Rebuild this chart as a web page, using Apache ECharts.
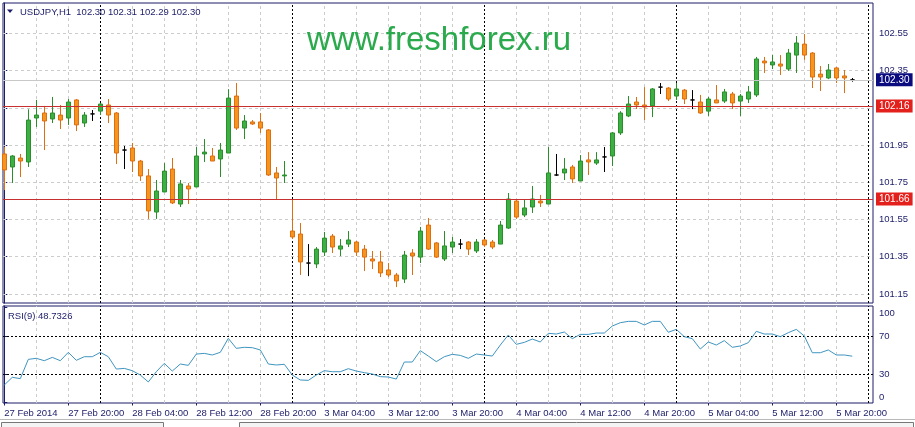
<!DOCTYPE html>
<html>
<head>
<meta charset="utf-8">
<title>USDJPY H1</title>
<script src="https://cdn.jsdelivr.net/npm/echarts@6/dist/echarts.min.js"></script>
<style>
  html, body { margin: 0; padding: 0; background: #fff; }
  #chart { width: 915px; height: 427px; }
</style>
</head>
<body>
<div id="chart"></div>
<script>
var symbolName = 'USDJPY,H1';
var watermark = 'www.freshforex.ru';

// every 8th bar gets a time label (bar 0 = 27 Feb 12:00)
var timeLabels = ['27 Feb 2014', '27 Feb 20:00', '28 Feb 04:00', '28 Feb 12:00', '28 Feb 20:00',
  '3 Mar 04:00', '3 Mar 12:00', '3 Mar 20:00', '4 Mar 04:00', '4 Mar 12:00', '4 Mar 20:00',
  '5 Mar 04:00', '5 Mar 12:00', '5 Mar 20:00'];

var opens = [101.902, 101.832, 101.880, 101.859, 102.095, 102.122, 102.090, 102.111, 102.095, 102.192,
  102.068, 102.117, 102.132, 102.165, 102.122, 101.923, 101.934, 101.864, 101.784, 101.590,
  101.698, 101.821, 101.633, 101.730, 101.725, 101.902, 101.891, 101.875, 101.907, 102.213,
  102.041, 102.074, 102.074, 102.031, 101.800, 101.784, 101.488, 101.472, 101.316, 101.311,
  101.375, 101.461, 101.391, 101.418, 101.429, 101.391, 101.338, 101.322, 101.279, 101.252,
  101.230, 101.370, 101.348, 101.520, 101.424, 101.338, 101.402, 101.418, 101.429, 101.381,
  101.440, 101.429, 101.418, 101.504, 101.649, 101.574, 101.617, 101.649, 101.633, 101.789,
  101.800, 101.832, 101.757, 101.870, 101.853, 101.886, 101.891, 102.015, 102.106, 102.181,
  102.165, 102.160, 102.261, 102.256, 102.213, 102.245, 102.192, 102.181, 102.132, 102.192,
  102.186, 102.224, 102.186, 102.197, 102.219, 102.401, 102.380, 102.385, 102.358, 102.433,
  102.492, 102.444, 102.331, 102.310, 102.364, 102.321, 102.30];
var highs = [101.939, 101.896, 101.902, 102.142, 102.192, 102.160, 102.208, 102.165, 102.197, 102.197,
  102.127, 102.138, 102.176, 102.197, 102.127, 101.945, 101.961, 101.870, 101.821, 101.762,
  101.853, 101.880, 101.762, 101.746, 101.939, 101.982, 101.934, 101.961, 102.250, 102.283,
  102.111, 102.084, 102.122, 102.036, 101.832, 101.864, 101.660, 101.531, 101.418, 101.402,
  101.483, 101.472, 101.445, 101.488, 101.434, 101.413, 101.381, 101.381, 101.316, 101.263,
  101.381, 101.391, 101.510, 101.558, 101.429, 101.488, 101.456, 101.445, 101.434, 101.445,
  101.445, 101.440, 101.542, 101.692, 101.660, 101.655, 101.730, 101.682, 101.939, 101.902,
  101.880, 101.843, 101.896, 101.912, 101.912, 101.939, 102.020, 102.132, 102.213, 102.208,
  102.261, 102.256, 102.283, 102.261, 102.283, 102.251, 102.245, 102.219, 102.208, 102.272,
  102.251, 102.235, 102.224, 102.267, 102.423, 102.423, 102.433, 102.433, 102.466, 102.535,
  102.546, 102.449, 102.374, 102.385, 102.369, 102.353, 102.31];
var lows = [101.708, 101.746, 101.778, 101.832, 102.047, 101.923, 102.068, 102.036, 102.058, 102.025,
  102.047, 102.079, 102.111, 102.068, 101.848, 101.821, 101.805, 101.757, 101.553, 101.553,
  101.698, 101.633, 101.617, 101.633, 101.725, 101.859, 101.864, 101.778, 101.907, 102.031,
  101.982, 102.058, 102.015, 101.784, 101.660, 101.746, 101.445, 101.252, 101.246, 101.289,
  101.354, 101.370, 101.354, 101.402, 101.354, 101.273, 101.284, 101.241, 101.241, 101.187,
  101.209, 101.252, 101.316, 101.386, 101.343, 101.327, 101.370, 101.391, 101.359, 101.370,
  101.402, 101.391, 101.418, 101.499, 101.553, 101.563, 101.585, 101.617, 101.633, 101.784,
  101.762, 101.746, 101.757, 101.789, 101.843, 101.805, 101.837, 102.004, 102.100, 102.143,
  102.084, 102.100, 102.224, 102.186, 102.192, 102.170, 102.143, 102.117, 102.106, 102.176,
  102.176, 102.143, 102.106, 102.176, 102.208, 102.337, 102.358, 102.326, 102.348, 102.337,
  102.407, 102.256, 102.240, 102.304, 102.283, 102.229, 102.29];
var closes = [101.816, 101.891, 101.864, 102.084, 102.111, 102.079, 102.122, 102.084, 102.181, 102.058,
  102.111, 102.117, 102.170, 102.111, 101.907, 101.923, 101.864, 101.784, 101.596, 101.703,
  101.810, 101.639, 101.741, 101.714, 101.891, 101.912, 101.864, 101.923, 102.202, 102.041,
  102.079, 102.063, 102.041, 101.789, 101.773, 101.789, 101.456, 101.322, 101.316, 101.391,
  101.450, 101.402, 101.408, 101.440, 101.375, 101.348, 101.327, 101.263, 101.252, 101.220,
  101.359, 101.354, 101.488, 101.391, 101.348, 101.408, 101.429, 101.418, 101.391, 101.429,
  101.413, 101.402, 101.520, 101.660, 101.563, 101.612, 101.660, 101.639, 101.800, 101.789,
  101.821, 101.768, 101.864, 101.859, 101.870, 101.886, 102.015, 102.122, 102.170, 102.165,
  102.154, 102.251, 102.261, 102.197, 102.251, 102.197, 102.192, 102.122, 102.197, 102.176,
  102.235, 102.176, 102.213, 102.235, 102.412, 102.391, 102.396, 102.374, 102.444, 102.498,
  102.433, 102.315, 102.315, 102.353, 102.310, 102.310, 102.30];

var rsiValues = [18.4, 26.5, 25.1, 45.4, 46.5, 44.0, 47.5, 44.0, 52.8, 44.4,
  48.2, 48.2, 52.8, 48.2, 35.2, 35.9, 33.5, 28.9, 21.6, 32.4,
  41.2, 33.1, 40.5, 39.1, 51.0, 51.7, 50.0, 52.8, 67.5, 57.0,
  58.1, 57.7, 55.3, 40.5, 39.5, 40.2, 28.9, 23.7, 23.3, 28.9,
  33.5, 32.4, 32.4, 35.6, 33.1, 31.4, 30.0, 27.2, 26.8, 24.7,
  42.6, 42.6, 54.6, 48.9, 43.0, 48.2, 50.7, 49.6, 46.5, 51.0,
  50.0, 48.9, 60.5, 71.0, 61.2, 63.3, 66.8, 63.7, 72.8, 72.1,
  74.2, 67.2, 71.7, 71.7, 73.1, 73.1, 80.5, 84.0, 85.4, 85.4,
  81.6, 85.4, 85.4, 73.9, 77.0, 69.3, 67.2, 56.3, 63.7, 60.5,
  65.1, 58.1, 59.5, 63.0, 74.9, 72.1, 72.1, 69.3, 73.5, 77.0,
  70.0, 52.4, 52.4, 55.3, 50.0, 50.0, 48.7326];

var priceTicks = [101.15, 101.35, 101.55, 101.75, 101.95, 102.15, 102.35, 102.55];
var rsiTicks = [0, 30, 70, 100];
var rsiLevels = [30, 70];
var levelLines = [102.16, 101.66];
var bidPrice = 102.30;
var daySeparators = [12, 36, 60, 84, 108];

var NAVY = '#1c1c6a';
var RED = '#e4201c';
var FONT = '"Liberation Sans", Arial, sans-serif';
var BARS_SPAN = [-0.1625, 108.5875]; // 8px per bar

var last = opens.length - 1;
var headerText = symbolName + '  ' + [opens[last], highs[last], lows[last], closes[last]]
  .map(function (v) { return v.toFixed(2); }).join(' ');
var rsiText = 'RSI(9) ' + rsiValues[last];

var candleData = opens.map(function (o, i) {
  var item = { value: [i, o, closes[i], lows[i], highs[i]] };
  if (o === closes[i]) {
    item.itemStyle = { color: '#000', color0: '#000', borderColor: '#000', borderColor0: '#000' };
  }
  return item;
});
var rsiData = rsiValues.map(function (v, i) { return [i, v]; });

// vertical grid every 4 bars, black dashed day separators
var vGrid = [];
for (var k = 4; k <= 108; k += 4) {
  if (daySeparators.indexOf(k) < 0) vGrid.push({ xAxis: k });
}
var sepLines = daySeparators.map(function (k) {
  return { xAxis: k, lineStyle: { color: '#000', type: [2, 2], width: 1 } };
});

var mainGridLines = vGrid.concat(priceTicks.map(function (v) { return { yAxis: v }; })).concat(sepLines);
var rsiGridLines = vGrid.concat(sepLines).concat(rsiLevels.map(function (v) {
  return { yAxis: v, lineStyle: { color: '#000', type: [2, 2], width: 1 } };
}));

function tag(value, bg, lineColor) {
  return {
    yAxis: value,
    lineStyle: { color: lineColor, type: 'solid', width: 1 },
    label: {
      show: true, position: 'end', distance: 3,
      formatter: function (p) { return p.value.toFixed(2); },
      backgroundColor: bg, color: '#fff', padding: [2, 3, 1, 3],
      fontFamily: FONT, fontSize: 10
    }
  };
}

var echart = echarts.init(document.getElementById('chart'), null, { renderer: 'canvas' });
var option = {
  animation: false,
  backgroundColor: '#fff',
  grid: [
    { left: 3, top: 3, width: 870, height: 300, show: true, borderColor: NAVY, borderWidth: 1, backgroundColor: '#fff' },
    { left: 3, top: 306, width: 870, height: 97, show: true, borderColor: NAVY, borderWidth: 1, backgroundColor: '#fff' }
  ],
  xAxis: [
    {
      type: 'value', gridIndex: 0, min: BARS_SPAN[0], max: BARS_SPAN[1],
      axisLine: { show: false }, axisTick: { show: false }, axisLabel: { show: false }, splitLine: { show: false }
    },
    {
      type: 'value', gridIndex: 1, min: BARS_SPAN[0], max: BARS_SPAN[1],
      axisLine: { show: false },
      axisTick: { show: true, length: 3, customValues: timeLabels.map(function (t, j) { return j * 8; }), lineStyle: { color: NAVY } },
      axisLabel: {
        customValues: timeLabels.map(function (t, j) { return j * 8; }),
        formatter: function (v) { return timeLabels[Math.round(v / 8)]; },
        align: 'left', margin: 5, color: NAVY, fontFamily: FONT, fontSize: 9.5
      },
      splitLine: { show: false }
    }
  ],
  yAxis: [
    {
      type: 'value', gridIndex: 0, position: 'right', min: 101.1015, max: 102.7127,
      axisLine: { show: true, lineStyle: { color: NAVY } },
      axisTick: { show: true, length: 3, customValues: priceTicks, lineStyle: { color: NAVY } },
      axisLabel: {
        customValues: priceTicks, margin: 6, color: NAVY, fontFamily: FONT, fontSize: 9.5,
        formatter: function (v) { return v.toFixed(2); }
      },
      splitLine: { show: false }
    },
    {
      type: 'value', gridIndex: 1, position: 'right', min: -0.53, max: 101.58,
      axisLine: { show: true, lineStyle: { color: NAVY } },
      axisTick: { show: true, length: 3, customValues: rsiTicks, lineStyle: { color: NAVY } },
      axisLabel: {
        customValues: rsiTicks, margin: 6, color: NAVY, fontFamily: FONT, fontSize: 9.5,
        formatter: function (v) {
          if (v === 100) return '{top|100}';
          if (v === 0) return '{bot|0}';
          return String(v);
        },
        rich: {
          top: { padding: [12, 0, 0, 0], color: NAVY, fontFamily: FONT, fontSize: 9.5 },
          bot: { padding: [0, 0, 11, 0], color: NAVY, fontFamily: FONT, fontSize: 9.5 }
        }
      },
      splitLine: { show: false }
    }
  ],
  graphic: [
    {
      type: 'text', x: 307, y: 41, silent: true, z: 100,
      style: { text: watermark, font: '33px ' + FONT, fill: '#2aaa4c', verticalAlign: 'middle', textVerticalAlign: 'middle' }
    },
    { type: 'polygon', silent: true, z: 100, shape: { points: [[7, 9.5], [13, 9.5], [10, 13]] }, style: { fill: NAVY } },
    {
      type: 'text', x: 20, y: 12, silent: true, z: 100,
      style: { text: headerText, font: '9.5px ' + FONT, fill: NAVY, verticalAlign: 'middle', textVerticalAlign: 'middle' }
    },
    {
      type: 'text', x: 8, y: 316, silent: true, z: 100,
      style: { text: rsiText, font: '9.5px ' + FONT, fill: NAVY, verticalAlign: 'middle', textVerticalAlign: 'middle' }
    },
    { type: 'line', silent: true, shape: { x1: 0, y1: 419.5, x2: 915, y2: 419.5 }, style: { stroke: '#b8b8b8' } },
    { type: 'rect', silent: true, shape: { x: 1.5, y: 422.5, width: 162, height: 10 }, style: { fill: '#f4f4f4', stroke: '#777' } },
    { type: 'rect', silent: true, shape: { x: 239.5, y: 422.5, width: 674, height: 10 }, style: { fill: '#f4f4f4', stroke: '#777' } }
  ],
  series: [
    {
      // main panel grid
      type: 'line', xAxisIndex: 0, yAxisIndex: 0, data: [], silent: true,
      markLine: {
        z: 1, silent: true, symbol: ['none', 'none'], label: { show: false },
        lineStyle: { color: '#cccccc', type: [3, 3], width: 1 },
        data: mainGridLines
      }
    },
    {
      type: 'candlestick', xAxisIndex: 0, yAxisIndex: 0, z: 3,
      encode: { x: 0, y: [1, 2, 3, 4] },
      barWidth: 5,
      itemStyle: {
        color: '#3cb043', color0: '#f7941d',
        borderColor: '#2a8f2a', borderColor0: '#dc6f10', borderWidth: 1
      },
      data: candleData,
      markLine: {
        z: 6, silent: true, symbol: ['none', 'none'],
        label: { show: false },
        data: [tag(bidPrice, '#0b0b80', '#c8c8c8')].concat(levelLines.map(function (v) { return tag(v, RED, '#c83030'); }))
      }
    },
    {
      name: 'RSI', type: 'line', xAxisIndex: 1, yAxisIndex: 1, z: 3,
      showSymbol: false, symbol: 'none',
      lineStyle: { color: '#3f95c0', width: 1 },
      data: rsiData,
      markLine: {
        z: 1, silent: true, symbol: ['none', 'none'], label: { show: false },
        lineStyle: { color: '#cccccc', type: [3, 3], width: 1 },
        data: rsiGridLines
      }
    }
  ]
};
echart.setOption(option);
</script>
</body>
</html>
